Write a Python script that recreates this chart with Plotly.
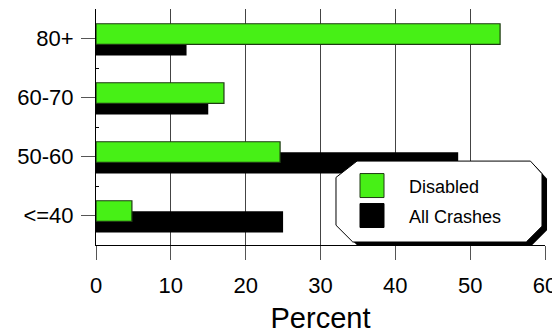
import plotly.graph_objects as go

age_groups = ['<=40', '50-60', '60-70', '80+']
disabled = [4.8, 24.6, 17.1, 54.0]
all_crashes = [25.0, 48.4, 15.0, 12.1]
x_ticks = [0, 10, 20, 30, 40, 50, 60]

GREEN = '#47F016'
FONT = 'Arial, Liberation Sans, sans-serif'

# plot area in page pixels (the page body adds an 8px offset)
L, R, T, B = 96, 545, 8.8, 245
OFF = 8
W, H = 560, 332


def px(x):
    return (x - L) / (R - L)


def py(y):
    return (B - y) / (B - T)


def octagon(x0, y0, x1, y1, c):
    pts = [(x0 + c, y0), (x1 - c * 0.55, y0), (x1, y0 + c * 0.6), (x1, y1 - c * 0.75),
           (x1 - c * 0.75, y1), (x0 + c * 0.8, y1), (x0, y1 - c * 0.8), (x0, y0 + c * 0.78)]
    return 'M ' + ' L '.join(f'{px(a):.4f},{py(b):.4f}' for a, b in pts) + ' Z'


fig = go.Figure()
fig.add_trace(go.Bar(y=age_groups, x=all_crashes, orientation='h', name='All Crashes',
                     marker=dict(color='black', line=dict(width=0)),
                     offset=-0.29, width=0.36))
fig.add_trace(go.Bar(y=age_groups, x=disabled, orientation='h', name='Disabled',
                     marker=dict(color=GREEN, line=dict(color='#1e3a12', width=1.2)),
                     offset=-0.10, width=0.35))

# legend box: shadow + chamfered white box
fig.add_shape(type='path', xref='paper', yref='paper', layer='above',
              path=octagon(341, 166, 547, 246, 21), fillcolor='black', line=dict(width=0))
fig.add_shape(type='path', xref='paper', yref='paper', layer='above',
              path=octagon(336, 161, 542, 242, 21), fillcolor='white',
              line=dict(color='black', width=1))
fig.add_shape(type='rect', xref='paper', yref='paper', layer='above',
              x0=px(360), x1=px(384), y0=py(197.5), y1=py(173.5),
              fillcolor=GREEN, line=dict(color='#1e3a12', width=1))
fig.add_shape(type='rect', xref='paper', yref='paper', layer='above',
              x0=px(360), x1=px(384), y0=py(227.5), y1=py(203.5),
              fillcolor='black', line=dict(color='black', width=1))
for label, yy in [('Disabled', 186.5), ('All Crashes', 216.5)]:
    fig.add_annotation(xref='paper', yref='paper', x=px(407), y=py(yy), text=label,
                       showarrow=False, xanchor='left', yanchor='middle',
                       font=dict(family=FONT, size=18, color='black'))

# small inner ticks between categories
fig.add_trace(go.Scatter(x=[None], y=[None], yaxis='y2', showlegend=False))

fig.update_layout(
    width=W, height=H,
    margin=dict(l=L - OFF, r=W - (R - OFF), t=T - OFF, b=H - (B - OFF), pad=0),
    plot_bgcolor='white', paper_bgcolor='white',
    barmode='overlay', showlegend=False,
    font=dict(family=FONT, color='black'),
    xaxis=dict(range=[0, 60], tickvals=x_ticks, showgrid=True, gridcolor='#444', gridwidth=1,
               showline=True, linecolor='black', linewidth=1, ticks='outside', ticklen=14,
               tickcolor='#555', tickfont=dict(size=22), zeroline=False, automargin=False,
               ticklabelstandoff=7,
               title=dict(text='Percent', font=dict(size=29), standoff=10)),
    yaxis=dict(categoryorder='array', categoryarray=age_groups, range=[-0.5, 3.5],
               showline=True, linecolor='black', linewidth=1, ticks='outside', ticklen=14,
               tickcolor='#555', tickfont=dict(size=22), showgrid=False, automargin=False,
               ticklabelstandoff=3),
    yaxis2=dict(overlaying='y', range=[-0.5, 3.5], tickvals=[0.5, 1.5, 2.5],
                ticks='inside', ticklen=3, tickcolor='black', showticklabels=False,
                showgrid=False, zeroline=False, side='left', automargin=False),
)

fig.write_html('out.html')
